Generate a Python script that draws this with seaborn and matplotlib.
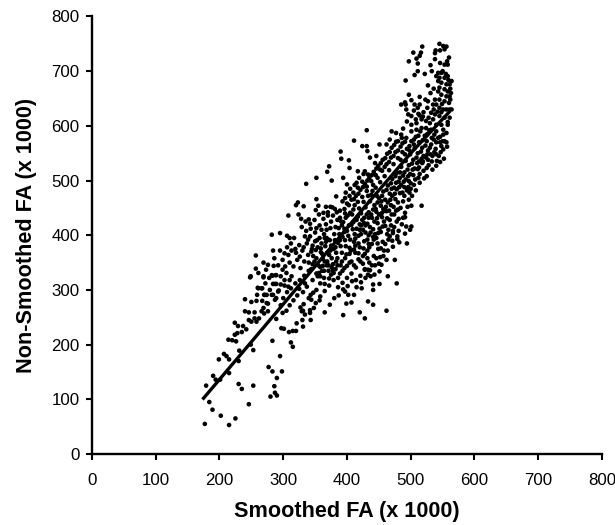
import pandas as pd
import seaborn as sb
import matplotlib
matplotlib.use('agg')
import matplotlib.pyplot as plt

# (smoothed, non-smoothed) pairs, by region
lowTail = [(177,55),(215,53),(225,65),(202,70),(189,81),(184,95),(246,91),(253,125),(235,119),(230,128),
    (179,125),(190,143),(201,136),(194,136),(215,148),(199,173),(230,170),(207,183),(211,179),(215,173),
    (231,189),(249,200),(253,190),(283,207),(295,179),(277,159),(283,151),(298,151),(290,139),(286,124),
    (280,105),(287,112),(290,107),(214,209),(220,208),(226,206),(224,218),(228,221),(235,223),(242,228),
    (224,240),(229,234),(237,234),(240,261),(246,259),(255,259),(246,245),(250,242),(258,242),(262,248),
    (255,248),(266,261),(270,257),(276,261),(240,283),(250,278),(258,280),(267,280),(274,276),(259,291),
    (270,291),(274,291),(260,304),(267,303),(248,323),(284,311),(289,311),(282,291),(289,285),(287,282),
    (293,299),(269,323),(283,326),(289,327),(299,258),(289,247),(297,230),(301,229),(309,223),(315,225),
    (320,225),(312,204),(315,196),(321,239),(331,233),(329,261),(330,245),(343,245),(334,255),(342,258),
    (348,267),(332,274),(343,291),(344,282),(305,262),(310,272),(316,281),(322,290),(300,285),(306,296),
    (312,303),(319,312),(296,272),(302,308),(310,318),(325,302),(331,296),(337,306),(326,318),(333,326)]

upperEdge = [(431,592),(411,573),(424,563),(431,563),(432,554),(451,566),(462,566),(467,575),(390,553),(391,540),
    (403,537),(372,526),(369,516),(352,505),(336,494),(376,500),(394,505),(400,493),(415,496),(404,523),
    (417,517),(428,517),(433,511),(436,542),(446,545),(444,532),(352,466),(383,471),(397,468),(323,460),
    (320,455),(332,453),(355,454),(351,446),(367,452),(374,452),(381,448),(308,436),(324,438),(340,429),
    (363,441),(370,436),(389,432),(282,401),(295,404),(306,399),(310,395),(317,395),(352,413),(360,410),
    (368,410),(374,413),(334,398),(342,398),(350,389),(357,395),(365,395),(257,363),(284,372),(295,372),
    (302,367),(308,364),(313,372),(269,350),(276,346),(285,344),(257,339),(249,325),(269,325),(273,337),
    (282,327),(288,327),(299,337),(305,331),(313,325),(287,311),(308,306),(261,303),(266,303),(271,291),
    (269,267),(276,275),(284,291),(292,297)]

lowerEdge = [(462,262),(433,279),(441,273),(420,259),(428,248),(394,254),(365,259),(373,273),(357,281),(342,263),
    (331,262),(327,268),(399,275),(407,277),(411,291),(423,303),(441,310),(451,311),(464,325),(478,312),
    (433,328),(451,334),(462,355),(475,355),(494,385),(472,379),(493,416),(501,416),(501,454),(517,454),
    (491,441),(480,447),(497,465),(500,485),(514,496),(525,508),(491,433),(499,410),(491,403),(479,393),
    (482,387),(454,346),(441,300),(402,291),(397,297),(433,337),(428,337),(472,404)]

capPoints = [(518,745),(545,750),(551,746),(556,745),(553,740),(546,738),(539,738),(538,733),(504,734),(516,734),
    (514,728),(509,723),(497,718),(511,714),(538,722),(531,711),(546,715),(553,712),(558,712),(560,725),
    (557,718),(511,700),(506,693),(522,695),(533,700),(492,683),(543,697),(548,697),(540,691),(545,688),
    (553,688),(558,691),(564,682),(543,682),(548,679),(556,676),(561,676),(527,674),(536,668),(531,660),
    (545,670),(553,667),(558,663),(543,663),(548,657),(556,654),(561,654),(553,645),(560,642),(545,648),
    (538,648),(497,657),(514,653),(523,648),(527,645),(501,647),(491,643),(485,639),(506,639),(492,639),
    (493,630),(514,639),(511,633),(526,633),(535,639),(540,639),(551,630),(556,630),(561,630),(545,633),
    (564,630),(496,621),(501,618),(514,619),(519,617),(532,624),(538,621),(545,618),(553,615),(561,615),
    (558,602),(558,607),(501,602),(509,605),(517,612),(524,609),(530,605),(535,612),(540,602),(548,602),
    (551,593),(470,590),(477,587),(485,584),(493,578),(501,590),(509,593),(517,596),(524,596),(532,593),
    (540,590),(551,584),(556,587),(553,572),(556,570),(548,563),(551,557),(562,668),(559,684),(563,660),
    (550,700),(555,695),(562,648),(549,640),(542,626),(536,630),(528,615),(520,625),(508,612),(548,625)]

midBand = [(352,300),(358,312),(364,322),(371,335),(378,347),(385,358),(392,368),(398,380),(405,392),(412,402),
    (346,318),(352,330),(358,342),(365,352),(372,364),(379,375),(386,386),(393,397),(400,408),(407,419),
    (340,335),(346,347),(352,358),(359,369),(366,380),(373,391),(380,402),(387,413),(394,424),(401,436),
    (327,340),(333,352),(339,364),(345,375),(351,373),(330,372),(322,355),(316,343),(310,350),(303,343),
    (296,325),(302,318),(325,382),(337,385),(344,370),(360,385),(367,420),(375,425),(382,415),(389,445),
    (396,448),(403,455),(410,447),(417,461),(424,470),(431,481),(438,474),(445,487),(452,497),(459,508),
    (466,519),(473,530),(480,541),(487,552),(408,438),(415,428),(422,440),(429,451),(436,462),(443,455),
    (450,468),(457,480),(464,491),(471,503),(478,514),(485,525),(492,536),(499,548),(506,559),(513,570),
    (414,472),(421,483),(428,494),(435,505),(442,516),(449,527),(456,538),(463,549),(470,560),(477,571),
    (484,562),(491,571),(498,563),(505,575),(512,582),(519,574),(526,585),(533,578),(540,570),(546,580),
    (355,345),(362,357),(369,368),(376,358),(383,368),(390,380),(397,391),(404,377),(411,388),(418,399),
    (425,410),(432,421),(439,432),(446,443),(453,454),(460,465),(467,476),(474,487),(481,498),(488,509),
    (495,520),(502,531),(509,542),(516,553),(523,564),(530,560),(537,552),(544,545),(520,545),(527,538),
    (413,368),(420,378),(427,389),(434,400),(441,411),(448,422),(455,433),(462,444),(469,455),(476,466),
    (483,477),(490,488),(497,499),(504,510),(511,521),(518,532),(525,523),(505,492),(512,505),(498,478),
    (404,350),(411,345),(418,356),(425,362),(432,372),(439,384),(446,395),(453,406),(460,417),(467,428),
    (474,438),(481,430),(488,462),(495,452),(456,388),(449,375),(442,362),(435,350),(428,338),(421,326),
    (414,318),(407,330),(400,322),(393,313),(386,305),(379,318),(372,308),(365,298),(358,288),(351,276),
    (396,340),(389,330),(382,338),(375,328),(368,345),(361,335),(354,325),(347,295),(340,285),(334,312),
    (458,372),(465,392),(472,408),(479,398),(486,420),(465,410),(452,360),(444,345),(437,325),(448,385),
    (392,418),(385,428),(378,436),(371,392),(364,402),(357,418),(350,405),(343,412),(336,408),(329,415),
    (319,375),(312,385),(306,378),(299,355),(292,345),(286,358),(278,322),(272,312),(279,300),(296,310),
    (398,478),(405,485),(412,492),(419,505),(426,512),(407,465),(400,458),(393,462),(420,420),(427,432),
    (434,442),(441,492),(448,505),(455,518),(462,530),(469,542),(476,552),(483,505),(490,515),(497,528),
    (504,538),(511,550),(518,560),(525,572),(532,566),(539,558),(484,538),(491,548),(498,555),(505,566),
    (415,412),(422,418),(429,405),(436,415),(443,425),(450,438),(457,448),(464,460),(471,472),(478,484),
    (485,492),(492,502),(499,512),(506,522),(513,535),(520,518),(527,555),(534,545),(541,536),(547,552)]

# second pass over the crowded part of the cloud
denseFill = [(432,392),(437,405),(429,418),(444,402),(451,412),(447,431),(458,425),(463,402),(469,418),(455,441),
    (441,397),(434,384),(426,376),(418,385),(422,402),(413,394),(409,411),(402,399),(396,412),(388,402),
    (381,391),(374,372),(367,388),(359,376),(353,391),(346,381),(339,392),(332,378),(326,361),(320,368),
    (344,338),(349,352),(356,331),(362,344),(369,352),(376,341),(383,352),(390,345),(397,358),(404,366),
    (411,374),(418,367),(425,348),(432,358),(439,345),(446,358),(453,376),(460,384),(467,398),(474,415),
    (481,408),(488,432),(477,445),(470,438),(463,431),(456,416),(449,404),(442,392),(435,378),(428,366),
    (421,352),(414,341),(407,352),(400,344),(393,335),(386,322),(379,331),(372,321),(365,311),(358,325),
    (380,285),(387,290),(394,301),(401,307),(408,316),(415,305),(422,314),(429,322),(436,336),(443,328),
    (450,348),(457,362),(464,372),(471,390),(478,425),(484,450),(490,472),(496,488),(502,472),(508,482),
    (514,512),(521,504),(528,528),(534,520),(540,548),(546,534),(552,540),(557,562),(546,570),(536,575),
    (531,548),(524,542),(517,540),(510,532),(503,520),(496,508),(489,498),(482,488),(475,476),(468,465),
    (461,452),(454,462),(447,472),(440,481),(433,472),(426,461),(419,449),(412,455),(405,441),(398,432),
    (391,425),(384,442),(377,451),(370,442),(363,430),(356,438),(349,428),(342,421),(335,425),(328,430),
    (261,331),(410,478),(417,487),(424,498),(431,489),(438,499),(445,510),(452,520),(459,525),(466,534),
    (473,545),(480,555),(487,568),(494,558),(501,572),(508,580),(515,590),(522,582),(529,592),(537,584),
    (543,578),(550,572),(488,595),(494,608),(505,628),(512,622),(486,578),(480,572),(474,565),(467,552),
    (460,541),(453,532),(446,522),(439,510),(432,500),(425,488),(418,476),(411,466),(404,472),(397,440),
    (438,438),(445,448),(452,438),(459,445),(466,445),(473,452),(480,460),(487,478),(494,482),(500,495),
    (507,502),(513,524),(519,535),(526,548),(533,535),(540,527),(424,428),(431,438),(417,434),(410,424),
    (403,418),(396,406),(389,391),(382,378),(375,381),(368,395),(361,366),(354,378),(347,362),(340,350),
    (470,485),(477,496),(483,515),(476,508),(469,495),(462,483),(455,472),(448,460),(441,447),(434,432),
    (427,422),(420,410),(413,381),(406,372),(399,365),(392,352),(385,345),(378,335),(371,345),(364,335)]

# trend line through the cloud
trendX = [175, 250, 337, 430, 500, 560]
trendY = [102, 205, 325, 455, 550, 625]

tickValues = list(range(0, 900, 100))

allPoints = lowTail + upperEdge + lowerEdge + capPoints + midBand + denseFill
Data = pd.DataFrame(allPoints, columns=["smoothed", "nonSmoothed"])
trend = pd.DataFrame({"smoothed": trendX, "nonSmoothed": trendY})

plt.rcParams['font.family'] = ['Liberation Sans', 'DejaVu Sans']
fig = plt.figure(figsize=(6.15, 5.25), dpi=100)
ax = fig.add_axes([92 / 615, 1 - 454 / 525, 510 / 615, 437.5 / 525])

sb.scatterplot(x="smoothed", y="nonSmoothed", data=Data, ax=ax, color="black", s=11, edgecolor="none", linewidth=0)
sb.lineplot(x="smoothed", y="nonSmoothed", data=trend, ax=ax, color="black", linewidth=2.4, errorbar=None)

ax.set_xlim(0, 800)
ax.set_ylim(0, 800)
ax.set_xticks(tickValues)
ax.set_yticks(tickValues)
ax.tick_params(labelsize=12.2, width=1.5, length=4.5, direction="out")
ax.tick_params(axis="x", pad=9)
ax.tick_params(axis="y", pad=4.5)
ax.set_xlabel("Smoothed FA (x 1000)", fontsize=15.6, fontweight="bold")
ax.set_ylabel("Non-Smoothed FA (x 1000)", fontsize=15.6, fontweight="bold")
ax.xaxis.set_label_coords(0.5, -0.107)
ax.yaxis.set_label_coords(-0.108, 0.5)
for side in ["top", "right"]:
    ax.spines[side].set_visible(False)
for side in ["left", "bottom"]:
    ax.spines[side].set_linewidth(1.7)

plt.savefig("out.png", dpi=100)
plt.close()
